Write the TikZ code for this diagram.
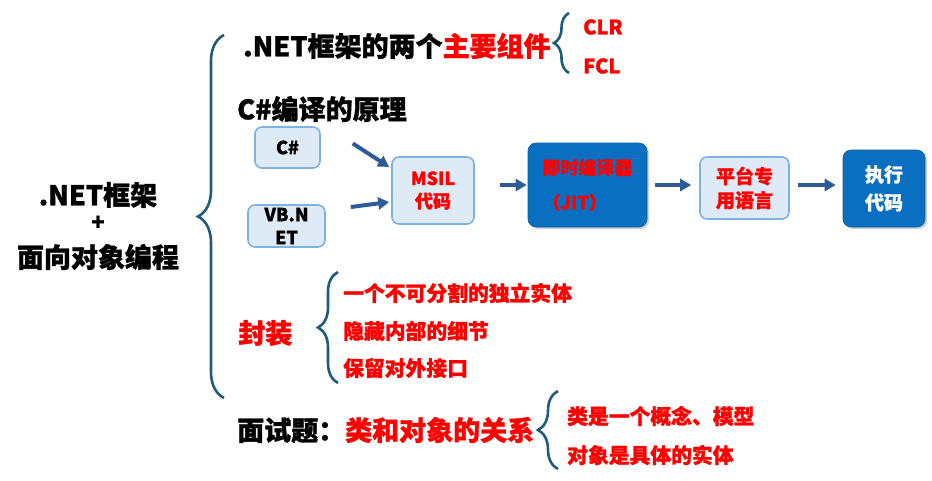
\documentclass[tikz,border=0pt]{standalone}
\usepackage{fontspec}
\setmainfont{Noto Sans CJK SC}[BoldFeatures={FakeBold=1.2}]
\usetikzlibrary{decorations.pathreplacing,shadows,arrows.meta}
\definecolor{bracec}{HTML}{1F5B7A}
\definecolor{lightbox}{HTML}{DEEBF7}
\definecolor{lightborder}{HTML}{7EB3E0}
\definecolor{darkbox}{HTML}{0A6FC0}
\definecolor{arrowc}{HTML}{2E5C99}
\definecolor{redt}{HTML}{FF0000}
\tikzset{
  bigtxt/.style={font=\fontsize{27}{30}\selectfont\bfseries, inner sep=0pt},
  headtxt/.style={font=\fontsize{27}{30}\selectfont\bfseries, inner sep=0pt, anchor=west},
  subtxt/.style={font=\fontsize{20.8}{22}\selectfont\bfseries, text=redt, inner sep=0pt, anchor=west},
  lightnode/.style={draw=lightborder, fill=lightbox, line width=1.6pt, rounded corners=7pt,
    font=\fontsize{18}{23}\selectfont\bfseries, align=center, inner sep=0pt},
  darknode/.style={draw=darkbox!85!black, fill=darkbox, line width=0.6pt, rounded corners=8pt,
    font=\fontsize{18}{28}\selectfont\bfseries, inner sep=0pt,
    drop shadow={shadow xshift=2pt, shadow yshift=-2pt, opacity=0.35}},
  flowarrow/.style={-{Triangle[length=11pt,width=12pt]}, line width=4pt, draw=arrowc},
  bracedeco/.style={decorate, decoration={brace, amplitude=#1}, draw=bracec, line width=2.6pt},
}
\begin{document}
\begin{tikzpicture}[x=1pt,y=-1pt]
\useasboundingbox[fill=white] (0,0) rectangle (932,480);

% left title
\node[bigtxt] (t1) at (98,195) {.NET框架};
\node[font=\fontsize{22}{24}\selectfont\bfseries, inner sep=0pt] (t2) at (98,223) {+};
\node[bigtxt] (t3) at (98,257) {面向对象编程};

% big brace
\coordinate (bbB) at (224,398);
\coordinate (bbT) at (224,35);
\draw[bracedeco=26pt] (bbB) -- (bbT);

% .NET components
\node[headtxt] (h1) at (243,46) {.NET框架的两个\textcolor{redt}{主要组件}};
\coordinate (sbB) at (569,73);
\coordinate (sbT) at (569,13);
\draw[bracedeco=15pt] (sbB) -- (sbT);
\node[subtxt, font=\fontsize{20}{22}\selectfont\bfseries] (clr) at (583,27) {CLR};
\node[subtxt, font=\fontsize{20}{22}\selectfont\bfseries] (fcl) at (583,66) {FCL};

% compile principle
\node[headtxt] (h2) at (237,109) {C\#编译的原理};

\node[lightnode, minimum width=65pt, minimum height=41pt] (cs) at (287.5,147.5) {C\#};
\node[lightnode, minimum width=77pt, minimum height=42pt] (vb) at (286.5,226) {VB.N\\ET};
\node[lightnode, minimum width=82pt, minimum height=67pt, text=redt] (msil) at (433,190.5) {MSIL\\代码};
\node[darknode, minimum width=119pt, minimum height=84pt, text=redt, align=left,
  font=\fontsize{18}{35}\selectfont\bfseries] (jit) at (587.5,185) {即时编译器\\（JIT）};
\node[lightnode, minimum width=89pt, minimum height=62pt, text=redt, font=\fontsize{19}{24}\selectfont\bfseries] (plat) at (744.5,188) {平台专\\用语言};
\node[darknode, minimum width=82pt, minimum height=77pt, text=white, align=center,
  font=\fontsize{19}{28}\selectfont\bfseries] (exe) at (884,188.5) {执行\\代码};

\draw[flowarrow] ([shift={(32pt,4pt)}]cs.east) -- ([shift={(-2pt,23.5pt)}]msil.west);
\draw[flowarrow] ([shift={(25pt,19pt)}]vb.east) -- ([shift={(-2pt,-11.5pt)}]msil.west);
\draw[flowarrow, shorten <=25pt, shorten >=1pt] (msil.east |- jit.west) -- (jit.west);
\draw[flowarrow, shorten <=8pt, shorten >=8pt] (jit.east) -- (jit.east -| plat.west);
\draw[flowarrow, shorten <=8pt, shorten >=7pt] (plat.east |- jit.east) -- (jit.east -| exe.west);

% encapsulation
\node[headtxt, text=redt] (fz) at (238,333) {封装};
\coordinate (ebB) at (338,383);
\coordinate (ebT) at (338,272);
\draw[bracedeco=20pt] (ebB) -- (ebT);
\node[subtxt] (e1) at (343,293) {一个不可分割的独立实体};
\node[subtxt] (e2) at (343,331) {隐藏内部的细节};
\node[subtxt] (e3) at (343,368) {保留对外接口};

% interview
\node[headtxt] (ms) at (237,430) {面试题：\textcolor{redt}{类和对象的关系}};
\coordinate (ibB) at (558,469);
\coordinate (ibT) at (558,391);
\draw[bracedeco=20pt] (ibB) -- (ibT);
\node[subtxt] (i1) at (567,416) {类是一个概念、模型};
\node[subtxt] (i2) at (567,455) {对象是具体的实体};
\end{tikzpicture}
\end{document}
